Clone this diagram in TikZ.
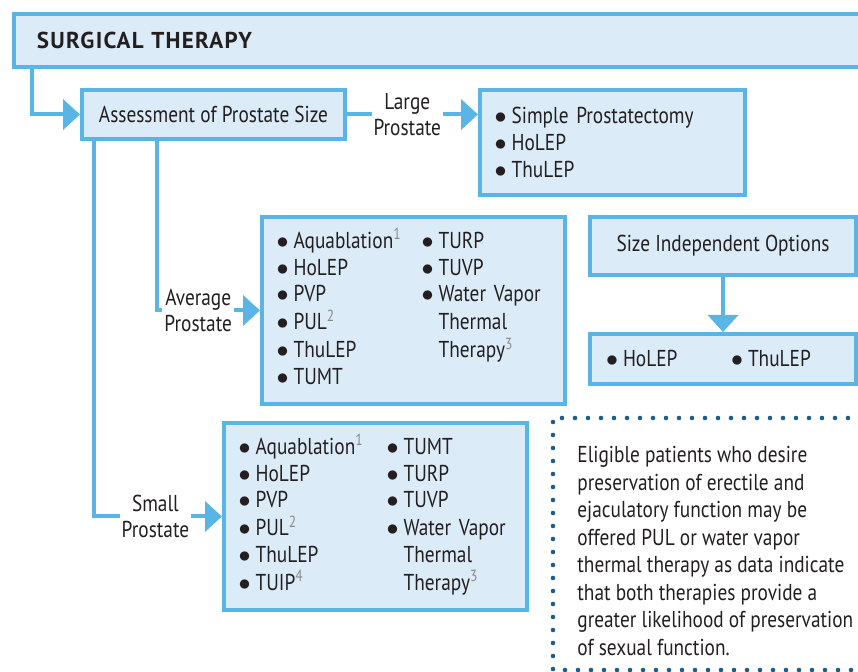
\documentclass[tikz,border=0pt]{standalone}
\usepackage{fontspec}
\setmainfont[FakeStretch=0.84]{PT Sans}
\newfontfamily\headfont[LetterSpace=5.5]{PT Sans}
\usetikzlibrary{arrows.meta}
\definecolor{lineblue}{HTML}{58B5E6}
\definecolor{fillblue}{HTML}{DBEBF8}
\definecolor{dotblue}{HTML}{1E5E86}
\definecolor{inkgray}{HTML}{231F20}
\definecolor{supgray}{HTML}{8A8A8A}
\newcommand{\bul}{\makebox[8.5pt][l]{$\bullet$}}
\newcommand{\nob}{\hspace{8.5pt}}
\newcommand{\fn}[1]{\textsuperscript{\color{supgray}#1}}

\begin{document}
\begin{tikzpicture}[x=0.5pt, y=-0.5pt,
    every node/.style={font=\fontsize{11.5}{13.3}\selectfont, text=inkgray},
    box/.style={draw=lineblue, fill=fillblue, line width=2pt, anchor=north west, inner sep=0pt},
    conn/.style={draw=lineblue, line width=2pt, -{Triangle[length=8.5pt, width=15pt]}},
    lbl/.style={fill=white, align=center, inner sep=1pt}]
  \clip (0,0) rectangle (858,672);
  % boxes
  \node[box, minimum height=26.5pt, text width=421pt, inner xsep=11.5pt] (head) at (12,12)
    {\headfont\bfseries SURGICAL THERAPY};
  \node[box, minimum width=131.5pt, minimum height=24.5pt] (assess) at (80,88)
    {Assessment of Prostate Size};
  \node[box, minimum height=52.5pt, text width=118pt, inner xsep=7.3pt] (large) at (478,88)
    {\bul Simple Prostatectomy\\ \bul HoLEP\\ \bul ThuLEP};
  \node[box, minimum height=93.5pt, text width=137pt, inner xsep=7.3pt] (avg) at (260,215)
    {\begin{tabular}{@{}p{72.5pt}@{}l@{}}
      \bul Aquablation\fn{1} & \bul TURP\\
      \bul HoLEP & \bul TUVP\\
      \bul PVP & \bul Water Vapor\\
      \bul PUL\fn{2} & \nob Thermal\\
      \bul ThuLEP & \nob Therapy\fn{3}\\
      \bul TUMT &
    \end{tabular}};
  \node[box, minimum height=93.5pt, text width=137pt, inner xsep=7.3pt] (small) at (222,421)
    {\begin{tabular}{@{}p{74pt}@{}l@{}}
      \bul Aquablation\fn{1} & \bul TUMT\\
      \bul HoLEP & \bul TURP\\
      \bul PVP & \bul TUVP\\
      \bul PUL\fn{2} & \bul Water Vapor\\
      \bul ThuLEP & \nob Thermal\\
      \bul TUIP\fn{4} & \nob Therapy\fn{3}
    \end{tabular}};
  \node[box, minimum width=133pt, minimum height=29pt] (sio) at (588,215)
    {Size Independent Options};
  \node[box, minimum height=25pt, text width=117pt, inner xsep=8pt] (hol) at (588,332)
    {\makebox[62.5pt][l]{\bul HoLEP}\bul ThuLEP};
  % connectors
  \draw[conn] ([xshift=10pt]head.south west) |- (assess.west);
  \draw[conn] (assess.east) -- (assess.east -| large.west)
    node[lbl, pos=0.46] {Large\\Prostate};
  \draw[conn] ([xshift=38.5pt]assess.south west) |- (avg.west)
    node[lbl, pos=0.7] {Average\\Prostate};
  \draw[conn] ([xshift=7pt]assess.south west) |- (small.west)
    node[lbl, pos=0.74] {Small\\Prostate};
  \draw[conn] (sio.south) -- (hol.north);
  % dotted note
  \draw[dotblue, line width=2.3pt, line cap=round, dash pattern=on 0pt off 6.5pt]
    (900,418) -- (553,418) -- (553,670) -- (900,670);
  \node[anchor=north west, align=left, inner sep=0pt,
    font=\fontsize{11.5}{13.75}\selectfont] (note) at (577,446)
    {Eligible patients who desire\\ preservation of erectile and\\
     ejaculatory function may be\\ offered PUL or water vapor\\
     thermal therapy as data indicate\\ that both therapies provide a\\
     greater likelihood of preservation\\ of sexual function.};
\end{tikzpicture}
\end{document}
